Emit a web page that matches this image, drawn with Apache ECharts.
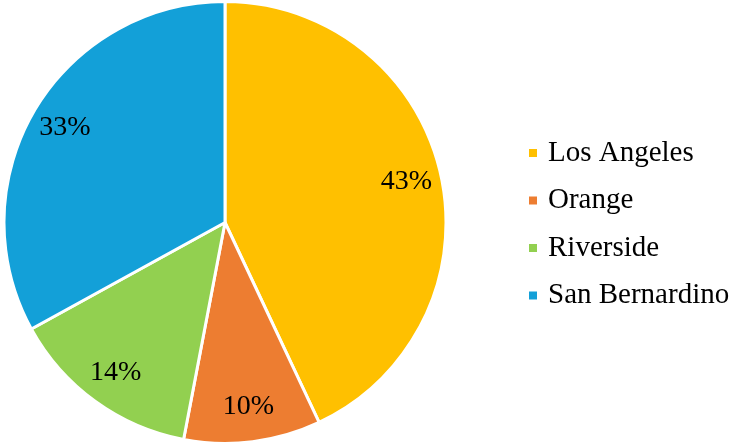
<!DOCTYPE html>
<html>
<head>
<meta charset="utf-8">
<script src="https://cdn.jsdelivr.net/npm/echarts@6/dist/echarts.min.js"></script>
<style>
  html, body { margin: 0; padding: 0; background: #fff; }
  #main { width: 729px; height: 444px; }
</style>
</head>
<body>
<div id="main"></div>
<script>
// 各县占比
var counties = ['Los Angeles', 'Orange', 'Riverside', 'San Bernardino'];
var shares = [43, 10, 14, 33];
var colors = ['#FFC000', '#ED7D31', '#92D050', '#13A0D8'];
var serif = '"Liberation Serif", "Times New Roman", serif';

var pieData = counties.map(function (name, i) {
    return { name: name, value: shares[i], itemStyle: { color: colors[i] } };
});

var myChart = echarts.init(document.getElementById('main'));
var option = {
    animation: false,
    legend: {
        orient: 'vertical',
        left: 527,
        top: 138,
        padding: 0,
        itemWidth: 10,
        itemHeight: 10,
        itemGap: 17.5,
        icon: 'rect',
        data: counties,
        textStyle: {
            fontFamily: serif,
            fontSize: 29,
            lineHeight: 30,
            color: '#000',
            padding: [0, 0, 0, 5]
        }
    },
    series: [
        {
            type: 'pie',
            center: [225, 222.5],
            radius: [0, 221],
            startAngle: 90,
            clockwise: true,
            label: { show: false },
            labelLine: { show: false },
            itemStyle: { borderColor: '#fff', borderWidth: 3 },
            data: pieData
        },
        {
            // 仅用于放置百分比标签
            type: 'pie',
            silent: true,
            center: [225, 222.5],
            radius: [154, 212],
            startAngle: 90,
            clockwise: true,
            itemStyle: { color: 'rgba(0,0,0,0)' },
            label: {
                show: true,
                position: 'inside',
                formatter: '{c}%',
                fontFamily: serif,
                fontSize: 28,
                color: '#000'
            },
            labelLine: { show: false },
            data: pieData.map(function (d) {
                return { name: d.name, value: d.value };
            })
        }
    ]
};
myChart.setOption(option);
</script>
</body>
</html>
